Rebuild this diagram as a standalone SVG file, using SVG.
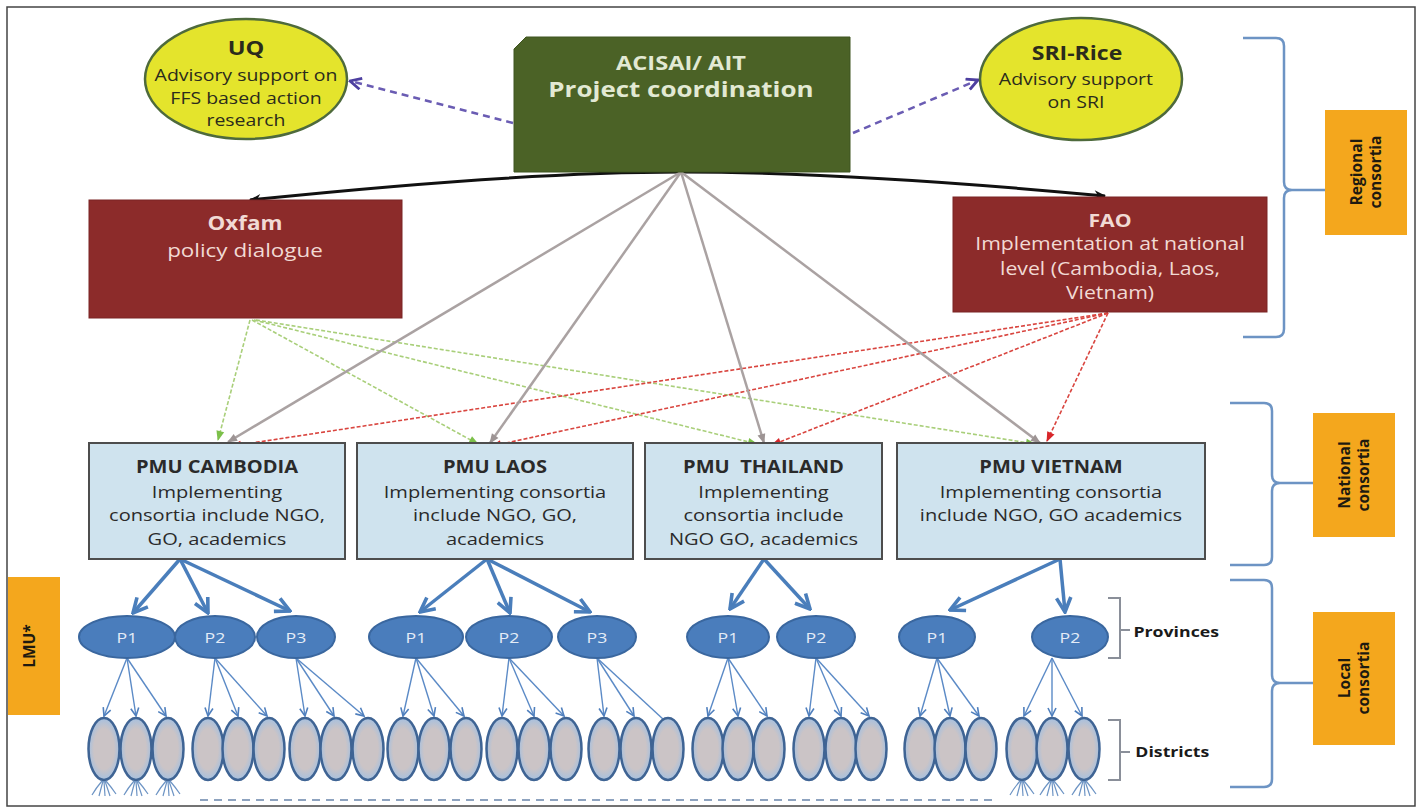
<svg xmlns="http://www.w3.org/2000/svg" width="1422" height="810" viewBox="0 0 1422 810">
<defs>
<style>
text{font-family:"Open Sans","Liberation Sans",sans-serif;text-anchor:middle}
.sx{transform-box:fill-box;transform-origin:center;transform:scaleX(1.18)}
.b{font-weight:bold}
.pmu{fill:#cfe3ee;stroke:#4d4d4d;stroke-width:2}
.pmut{fill:#2a2a2a;font-size:17px}
.yel{fill:#e4e42c;stroke:#4e6a3c;stroke-width:2.5}
.yt{fill:#2b2b1c}
.red{fill:#8c2b2a;stroke:#7a2424;stroke-width:1}
.rt{fill:#f1dad4}
.org{fill:#f4a71d}
.ot{fill:#1e1a10;font-size:15.5px;font-weight:bold}
.prov{fill:#4a7dbc;stroke:#3a679f;stroke-width:2}
.pt{fill:#e3ecf7;font-size:15px}
.dist{fill:url(#dg);stroke:#3f6494;stroke-width:2.5}
.brk{fill:none;stroke:#6d94c4;stroke-width:2.5}
.brg{fill:none;stroke:#8a8f99;stroke-width:2}
.gray{fill:none;stroke:#aaa2a2;stroke-width:2.5;marker-end:url(#mGray)}
.grn{fill:none;stroke:#a9cf7a;stroke-width:1.6;stroke-dasharray:4 2;marker-end:url(#mGreen)}
.rd{fill:none;stroke:#d9453f;stroke-width:1.6;stroke-dasharray:4 2;marker-end:url(#mRed)}
.pur{fill:none;stroke:#6a5cb3;stroke-width:2.5;stroke-dasharray:7 5;marker-end:url(#mPur)}
.blk{fill:none;stroke:#111;stroke-width:3;marker-end:url(#mBlk)}
.bth{fill:none;stroke:#4a7ebb;stroke-width:3.5;marker-end:url(#mBT)}
.btn{fill:none;stroke:#5b8ac6;stroke-width:1.4;marker-end:url(#mBt)}
.btn0{fill:none;stroke:#5b8ac6;stroke-width:1.4}
.root{fill:none;stroke:#6d94c4;stroke-width:1.2}
</style>
<radialGradient id="dg" cx="0.5" cy="0.5" r="0.5">
<stop offset="0.65" stop-color="#cbc4c6"/>
<stop offset="1" stop-color="#a6c0df"/>
</radialGradient>
<marker id="mGray" viewBox="0 0 10 10" refX="9" refY="5" markerWidth="12" markerHeight="10" markerUnits="userSpaceOnUse" orient="auto"><path d="M0,1 L10,5 L0,9 z" fill="#9d9494"/></marker>
<marker id="mGreen" viewBox="0 0 10 10" refX="9" refY="5" markerWidth="11" markerHeight="10" markerUnits="userSpaceOnUse" orient="auto"><path d="M0,1 L10,5 L0,9 z" fill="#7cc04a"/></marker>
<marker id="mRed" viewBox="0 0 10 10" refX="9" refY="5" markerWidth="11" markerHeight="10" markerUnits="userSpaceOnUse" orient="auto"><path d="M0,1 L10,5 L0,9 z" fill="#d8262a"/></marker>
<marker id="mPur" viewBox="0 0 10 10" refX="9" refY="5" markerWidth="14" markerHeight="14" markerUnits="userSpaceOnUse" orient="auto"><path d="M1,1 L9,5 L1,9" fill="none" stroke="#4d3fa0" stroke-width="2"/></marker>
<marker id="mBlk" viewBox="0 0 10 10" refX="9" refY="5" markerWidth="18" markerHeight="12" markerUnits="userSpaceOnUse" orient="auto"><path d="M0,1 L10,5 L0,9 L3,5 z" fill="#111"/></marker>
<marker id="mBT" viewBox="0 0 10 10" refX="9" refY="5" markerWidth="18" markerHeight="18" markerUnits="userSpaceOnUse" orient="auto"><path d="M1,1 L9,5 L1,9" fill="none" stroke="#4a7ebb" stroke-width="2"/></marker>
<marker id="mBt" viewBox="0 0 10 10" refX="9" refY="5" markerWidth="10" markerHeight="10" markerUnits="userSpaceOnUse" orient="auto"><path d="M1,1 L9,5 L1,9" fill="none" stroke="#4f7fbd" stroke-width="1.6"/></marker>
</defs>

<rect x="7" y="7" width="1408" height="799" fill="#ffffff" stroke="#444" stroke-width="1.5"/>

<g id="connectors">
<path class="pur" d="M513,123 L350,81"/>
<path class="pur" d="M853,133 L978,80"/>
<path class="blk" d="M681,172 Q520,172 250,200"/>
<path class="blk" d="M681,172 Q850,172 1105,196"/>
<path class="grn" d="M250,320 L218,440"/>
<path class="grn" d="M252,320 L478,444"/>
<path class="grn" d="M254,320 L757,444"/>
<path class="grn" d="M256,320 L1035,444"/>
<path class="rd" d="M1108,313 L232,446"/>
<path class="rd" d="M1108,313 L492,446"/>
<path class="rd" d="M1108,313 L772,445"/>
<path class="rd" d="M1108,313 L1047,441"/>
<path class="gray" d="M681,172 L228,442"/>
<path class="gray" d="M681,172 L490,443"/>
<path class="gray" d="M681,172 L764,443"/>
<path class="gray" d="M681,172 L1040,443"/>
<path class="bth" d="M180,559 L133,613"/>
<path class="bth" d="M180,559 L208,613"/>
<path class="bth" d="M180,559 L290,611"/>
<path class="bth" d="M487,559 L420,612"/>
<path class="bth" d="M487,559 L510,613"/>
<path class="bth" d="M487,559 L590,612"/>
<path class="bth" d="M764,559 L730,609"/>
<path class="bth" d="M764,559 L810,609"/>
<path class="bth" d="M1060,559 L950,610"/>
<path class="bth" d="M1060,559 L1065,612"/>
<path class="btn" d="M127,658 L104,716"/>
<path class="btn" d="M127,658 L136,716"/>
<path class="btn" d="M127,658 L166,716"/>
<path class="btn" d="M215,658 L208,716"/>
<path class="btn" d="M215,658 L238,716"/>
<path class="btn" d="M215,658 L267,716"/>
<path class="btn" d="M296,658 L305,716"/>
<path class="btn" d="M296,658 L334,716"/>
<path class="btn" d="M296,658 L364,716"/>
<path class="btn" d="M416,658 L403,716"/>
<path class="btn" d="M416,658 L434,716"/>
<path class="btn" d="M416,658 L464,716"/>
<path class="btn" d="M509,658 L502,716"/>
<path class="btn" d="M509,658 L534,716"/>
<path class="btn" d="M509,658 L564,716"/>
<path class="btn" d="M597,658 L604,716"/>
<path class="btn" d="M597,658 L634,716"/>
<path class="btn0" d="M597,658 L664,720"/>
<path class="btn" d="M728,658 L708,716"/>
<path class="btn" d="M728,658 L738,716"/>
<path class="btn" d="M728,658 L767,716"/>
<path class="btn" d="M816,658 L809,716"/>
<path class="btn" d="M816,658 L841,716"/>
<path class="btn" d="M816,658 L869,716"/>
<path class="btn" d="M937,658 L920,716"/>
<path class="btn" d="M937,658 L950,716"/>
<path class="btn" d="M937,658 L979,716"/>
<path class="btn" d="M1052,658 L1024,716"/>
<path class="btn" d="M1052,658 L1052,716"/>
<path class="btn" d="M1052,658 L1082,716"/>
</g>

<g id="brackets">
<path class="brk" d="M1243,38 L1276,38 Q1284,38 1284,46 L1284,182 Q1284,190 1292,190 Q1284,190 1284,198 L1284,329 Q1284,337 1276,337 L1243,337 M1292,190 L1325,190"/>
<path class="brk" d="M1230,403 L1264,403 Q1272,403 1272,411 L1272,475 Q1272,483 1280,483 Q1272,483 1272,491 L1272,557 Q1272,565 1264,565 L1230,565 M1280,483 L1313,483"/>
<path class="brk" d="M1230,580 L1264,580 Q1272,580 1272,588 L1272,675 Q1272,683 1280,683 Q1272,683 1272,691 L1272,779 Q1272,787 1264,787 L1230,787 M1280,683 L1313,683"/>
<path class="brg" d="M1108,598 L1120,598 L1120,658 L1108,658 M1120,630 L1130,630"/>
<path class="brg" d="M1108,720 L1120,720 L1120,780 L1108,780 M1120,752 L1130,752"/>
<path d="M200,800 L998,800" fill="none" stroke="#8ea3bf" stroke-width="2" stroke-dasharray="8 6"/>
</g>

<g id="node-uq">
<ellipse class="yel" cx="246" cy="79" rx="101" ry="60"/>
<text class="sx b yt" x="246" y="55" font-size="20">UQ</text>
<text class="sx yt" x="246" font-size="16.5"><tspan x="246" y="81">Advisory support on</tspan><tspan x="246" y="104">FFS based action</tspan><tspan x="246" y="126">research</tspan></text>
</g>

<g id="node-acisai">
<path d="M526,37 L850,37 L850,172 L514,172 L514,49 Z" fill="#4b6226" stroke="#3f5420" stroke-width="1"/>
<text class="sx b" x="681" y="70" font-size="20" fill="#e2e9d3">ACISAI/ AIT</text>
<text class="sx b" x="681" y="97" font-size="22" fill="#e2e9d3">Project coordination</text>
</g>

<g id="node-sri">
<ellipse class="yel" cx="1081" cy="79" rx="101" ry="61"/>
<text class="sx b yt" x="1077" y="60" font-size="19.5">SRI-Rice</text>
<text class="sx yt" x="1076" font-size="16.5"><tspan x="1076" y="85">Advisory support</tspan><tspan x="1076" y="108">on SRI</tspan></text>
</g>

<g id="node-oxfam">
<rect class="red" x="89" y="200" width="313" height="118"/>
<text class="sx b rt" x="245" y="230" font-size="19">Oxfam</text>
<text class="sx rt" x="245" y="257" font-size="19">policy dialogue</text>
</g>

<g id="node-fao">
<rect class="red" x="953" y="197" width="314" height="115"/>
<text class="sx b rt" x="1110" y="227" font-size="18">FAO</text>
<text class="sx rt" x="1110" font-size="18"><tspan x="1110" y="250">Implementation at national</tspan><tspan x="1110" y="275">level (Cambodia, Laos,</tspan><tspan x="1110" y="299">Vietnam)</tspan></text>
</g>

<g id="node-pmu-cambodia">
<rect class="pmu" x="89" y="443" width="256" height="116"/>
<text class="sx b pmut" x="217" y="473">PMU CAMBODIA</text>
<text class="sx pmut" x="217"><tspan x="217" y="498">Implementing</tspan><tspan x="217" y="521">consortia include NGO,</tspan><tspan x="217" y="545">GO, academics</tspan></text>
</g>

<g id="node-pmu-laos">
<rect class="pmu" x="357" y="443" width="276" height="116"/>
<text class="sx b pmut" x="495" y="473">PMU LAOS</text>
<text class="sx pmut" x="495"><tspan x="495" y="498">Implementing consortia</tspan><tspan x="495" y="521">include NGO, GO,</tspan><tspan x="495" y="545">academics</tspan></text>
</g>

<g id="node-pmu-thailand">
<rect class="pmu" x="645" y="443" width="237" height="116"/>
<text class="sx b pmut" x="763.5" y="473" xml:space="preserve">PMU  THAILAND</text>
<text class="sx pmut" x="763.5"><tspan x="763.5" y="498">Implementing</tspan><tspan x="763.5" y="521">consortia include</tspan><tspan x="763.5" y="545">NGO GO, academics</tspan></text>
</g>

<g id="node-pmu-vietnam">
<rect class="pmu" x="897" y="443" width="308" height="116"/>
<text class="sx b pmut" x="1051" y="473">PMU VIETNAM</text>
<text class="sx pmut" x="1051"><tspan x="1051" y="498">Implementing consortia</tspan><tspan x="1051" y="521">include NGO, GO academics</tspan></text>
</g>

<g id="provinces">
<g id="prov-cambodia-p1"><ellipse class="prov" cx="127" cy="637" rx="48" ry="21"/><text class="sx pt" x="127" y="643">P1</text></g>
<g id="prov-cambodia-p2"><ellipse class="prov" cx="215" cy="637" rx="40" ry="21"/><text class="sx pt" x="215" y="643">P2</text></g>
<g id="prov-cambodia-p3"><ellipse class="prov" cx="296" cy="637" rx="39" ry="21"/><text class="sx pt" x="296" y="643">P3</text></g>
<g id="prov-laos-p1"><ellipse class="prov" cx="416" cy="637" rx="47" ry="21"/><text class="sx pt" x="416" y="643">P1</text></g>
<g id="prov-laos-p2"><ellipse class="prov" cx="509" cy="637" rx="43" ry="21"/><text class="sx pt" x="509" y="643">P2</text></g>
<g id="prov-laos-p3"><ellipse class="prov" cx="597" cy="637" rx="39" ry="21"/><text class="sx pt" x="597" y="643">P3</text></g>
<g id="prov-thailand-p1"><ellipse class="prov" cx="728" cy="637" rx="41" ry="21"/><text class="sx pt" x="728" y="643">P1</text></g>
<g id="prov-thailand-p2"><ellipse class="prov" cx="816" cy="637" rx="39" ry="21"/><text class="sx pt" x="816" y="643">P2</text></g>
<g id="prov-vietnam-p1"><ellipse class="prov" cx="937" cy="637" rx="38" ry="21"/><text class="sx pt" x="937" y="643">P1</text></g>
<g id="prov-vietnam-p2"><ellipse class="prov" cx="1070" cy="637" rx="38" ry="21"/><text class="sx pt" x="1070" y="643">P2</text></g>
</g>

<g id="districts">
<g id="dist-cambodia-p1"><ellipse class="dist" cx="104" cy="749" rx="15.5" ry="31"/><ellipse class="dist" cx="136" cy="749" rx="15.5" ry="31"/><ellipse class="dist" cx="168" cy="749" rx="15.5" ry="31"/></g>
<g id="dist-cambodia-p2"><ellipse class="dist" cx="208" cy="749" rx="15.5" ry="31"/><ellipse class="dist" cx="238" cy="749" rx="15.5" ry="31"/><ellipse class="dist" cx="269" cy="749" rx="15.5" ry="31"/></g>
<g id="dist-cambodia-p3"><ellipse class="dist" cx="305" cy="749" rx="15.5" ry="31"/><ellipse class="dist" cx="336" cy="749" rx="15.5" ry="31"/><ellipse class="dist" cx="368" cy="749" rx="15.5" ry="31"/></g>
<g id="dist-laos-p1"><ellipse class="dist" cx="403" cy="749" rx="15.5" ry="31"/><ellipse class="dist" cx="434" cy="749" rx="15.5" ry="31"/><ellipse class="dist" cx="466" cy="749" rx="15.5" ry="31"/></g>
<g id="dist-laos-p2"><ellipse class="dist" cx="502" cy="749" rx="15.5" ry="31"/><ellipse class="dist" cx="534" cy="749" rx="15.5" ry="31"/><ellipse class="dist" cx="566" cy="749" rx="15.5" ry="31"/></g>
<g id="dist-laos-p3"><ellipse class="dist" cx="604" cy="749" rx="15.5" ry="31"/><ellipse class="dist" cx="636" cy="749" rx="15.5" ry="31"/><ellipse class="dist" cx="668" cy="749" rx="15.5" ry="31"/></g>
<g id="dist-thailand-p1"><ellipse class="dist" cx="708" cy="749" rx="15.5" ry="31"/><ellipse class="dist" cx="738" cy="749" rx="15.5" ry="31"/><ellipse class="dist" cx="769" cy="749" rx="15.5" ry="31"/></g>
<g id="dist-thailand-p2"><ellipse class="dist" cx="809" cy="749" rx="15.5" ry="31"/><ellipse class="dist" cx="841" cy="749" rx="15.5" ry="31"/><ellipse class="dist" cx="871" cy="749" rx="15.5" ry="31"/></g>
<g id="dist-vietnam-p1"><ellipse class="dist" cx="920" cy="749" rx="15.5" ry="31"/><ellipse class="dist" cx="950" cy="749" rx="15.5" ry="31"/><ellipse class="dist" cx="981" cy="749" rx="15.5" ry="31"/></g>
<g id="dist-vietnam-p2"><ellipse class="dist" cx="1022" cy="749" rx="15.5" ry="31"/><ellipse class="dist" cx="1052" cy="749" rx="15.5" ry="31"/><ellipse class="dist" cx="1084" cy="749" rx="15.5" ry="31"/></g>
<g id="roots">
<path class="root" d="M102,781 Q96,788 92,795 M103,781 L99,796 M104,781 L105,796 M105,781 L110,796 M106,781 Q112,788 116,794"/>
<path class="root" d="M134,781 Q128,788 124,795 M135,781 L131,796 M136,781 L137,796 M137,781 L142,796 M138,781 Q144,788 148,794"/>
<path class="root" d="M166,781 Q160,788 156,795 M167,781 L163,796 M168,781 L169,796 M169,781 L174,796 M170,781 Q176,788 180,794"/>
<path class="root" d="M1020,781 Q1014,788 1010,795 M1021,781 L1017,796 M1022,781 L1023,796 M1023,781 L1028,796 M1024,781 Q1030,788 1034,794"/>
<path class="root" d="M1050,781 Q1044,788 1040,795 M1051,781 L1047,796 M1052,781 L1053,796 M1053,781 L1058,796 M1054,781 Q1060,788 1064,794"/>
<path class="root" d="M1082,781 Q1076,788 1072,795 M1083,781 L1079,796 M1084,781 L1085,796 M1085,781 L1090,796 M1086,781 Q1092,788 1096,794"/>
</g>
</g>

<g id="label-provinces"><text class="sx b" x="1140" y="637" font-size="15" fill="#1a1a1a" style="text-anchor:start">Provinces</text></g>
<g id="label-districts"><text class="sx b" x="1141" y="757" font-size="15" fill="#1a1a1a" style="text-anchor:start">Districts</text></g>

<g id="label-regional">
<rect class="org" x="1325" y="110" width="82" height="125"/>
<text class="ot" transform="translate(1366,172) rotate(-90)"><tspan x="0" y="-4">Regional</tspan><tspan x="0" y="15">consortia</tspan></text>
</g>
<g id="label-national">
<rect class="org" x="1313" y="413" width="82" height="124"/>
<text class="ot" transform="translate(1354,475) rotate(-90)"><tspan x="0" y="-4">National</tspan><tspan x="0" y="15">consortia</tspan></text>
</g>
<g id="label-local">
<rect class="org" x="1313" y="612" width="82" height="133"/>
<text class="ot" transform="translate(1354,678) rotate(-90)"><tspan x="0" y="-4">Local</tspan><tspan x="0" y="15">consortia</tspan></text>
</g>
<g id="label-lmu">
<rect class="org" x="8" y="577" width="52" height="138"/>
<text class="ot" transform="translate(35,646) rotate(-90)" x="0" y="0">LMU*</text>
</g>
</svg>
